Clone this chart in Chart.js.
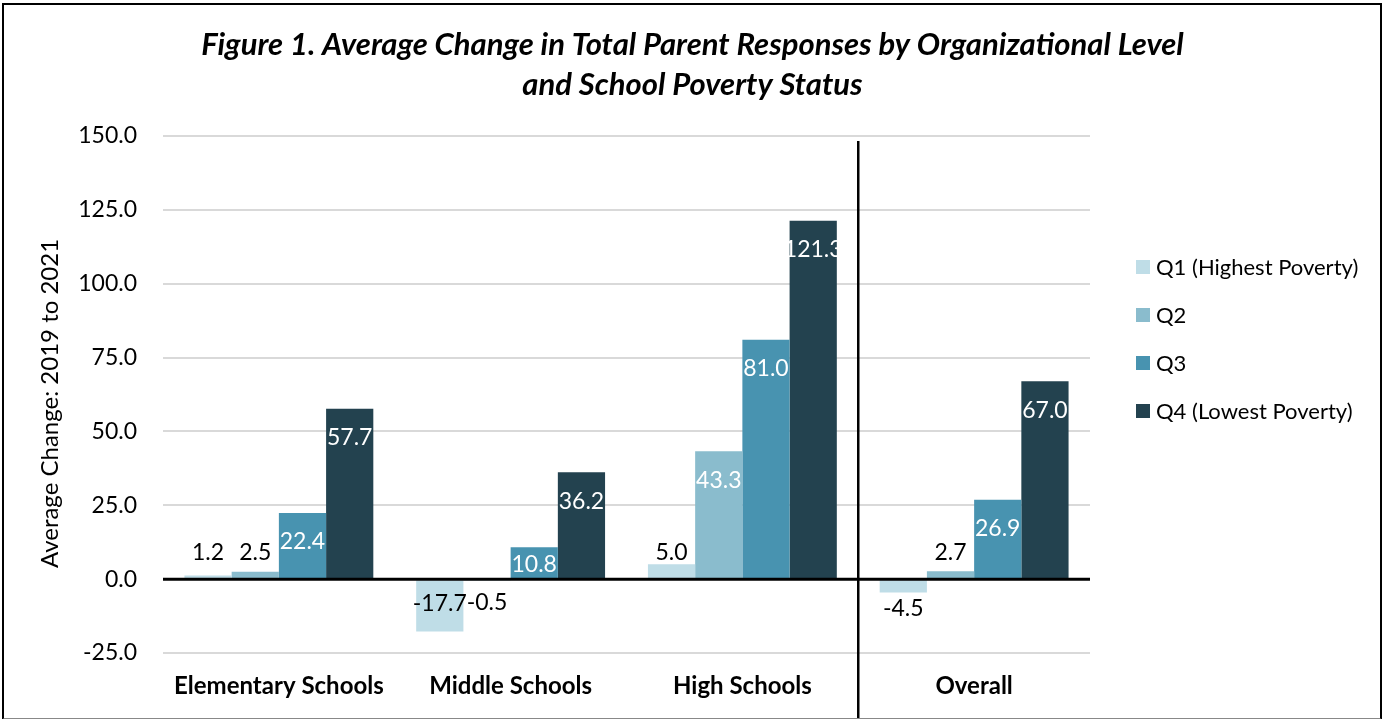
<!DOCTYPE html>
<html>
<head>
<meta charset="utf-8">
<script src="https://cdn.jsdelivr.net/npm/chart.js@4.4.1/dist/chart.umd.min.js"></script>
<style>
  html,body{margin:0;padding:0;background:#fff;}
  #wrap{position:relative;width:1385px;height:719px;overflow:hidden;}
  #frame{position:absolute;left:2px;top:3px;width:1376px;height:713px;border:2px solid #000;border-bottom-color:#888;pointer-events:none;}
  canvas{position:absolute;left:0;top:0;}
</style>
</head>
<body>
<div id="wrap">
  <canvas id="c" width="1385" height="719"></canvas>
  <div id="frame"></div>
</div>
<script>
const titleLines = ["Figure 1. Average Change in Total Parent Responses by Organizational Level", "and School Poverty Status"];
const categories = ["Elementary Schools", "Middle Schools", "High Schools", "Overall"];
const seriesNames = ["Q1 (Highest Poverty)", "Q2", "Q3", "Q4 (Lowest Poverty)"];
const q1 = [1.2, -17.7, 5.0, -4.5];
const q2 = [2.5, -0.5, 43.3, 2.7];
const q3 = [22.4, 10.8, 81.0, 26.9];
const q4 = [57.7, 36.2, 121.3, 67.0];
const yTicks = [-25, 0, 25, 50, 75, 100, 125, 150];
const yTitle = "Average Change: 2019 to 2021";
const colors = ["#BFDDE7", "#8ABCCD", "#4893B0", "#23424F"];

const FONT = "Lato";

const overlay = {
  id: "overlay",
  afterDatasetsDraw(chart) {
    const ctx = chart.ctx, ys = chart.scales.y, xs = chart.scales.x, ca = chart.chartArea;
    const zero = ys.getPixelForValue(0);
    ctx.save();
    // zero line
    ctx.strokeStyle = "#000"; ctx.lineWidth = 3;
    ctx.beginPath(); ctx.moveTo(ca.left, zero); ctx.lineTo(ca.right, zero); ctx.stroke();
    // separator between High Schools and Overall
    const sx = (xs.getPixelForValue(2) + xs.getPixelForValue(3)) / 2;
    ctx.lineWidth = 2.5;
    ctx.beginPath(); ctx.moveTo(sx, ca.top + 5); ctx.lineTo(sx, chart.height); ctx.stroke();
    // data labels
    ctx.font = "23px " + FONT; ctx.textAlign = "center"; ctx.textBaseline = "middle";
    chart.data.datasets.forEach((ds, di) => {
      const meta = chart.getDatasetMeta(di);
      meta.data.forEach((bar, i) => {
        const v = ds.data[i];
        const h = Math.abs(bar.base - bar.y);
        let ly, col;
        if (h > 28) {
          const off = Math.min(29, h / 2 + 2);
          ly = v > 0 ? bar.y + off : bar.y - off;
          col = di === 0 ? "#000" : "#fff";
        } else {
          ly = v >= 0 ? Math.min(bar.y - 12, zero - 27) : Math.max(bar.y + 16, zero + 23);
          col = "#000";
        }
        ctx.fillStyle = col;
        ctx.fillText(v.toFixed(1), bar.x, ly);
      });
    });
    // y axis title
    ctx.save();
    ctx.fillStyle = "#000"; ctx.font = "24px " + FONT;
    ctx.translate(ys.left + 50, (ca.top + ca.bottom) / 2 + 9);
    ctx.rotate(-Math.PI / 2);
    ctx.fillText(yTitle, 0, 0);
    ctx.restore();
    // legend
    ctx.textAlign = "left"; ctx.font = "22px " + FONT;
    chart.data.datasets.forEach((ds, di) => {
      const cy = 267 + di * 48;
      ctx.fillStyle = ds.backgroundColor;
      ctx.fillRect(ca.right + 46, cy - 7, 14, 14);
      ctx.fillStyle = "#000";
      ctx.fillText(ds.label, ca.right + 66, cy + 1);
    });
    // title
    ctx.textAlign = "center"; ctx.font = "italic bold 31px " + FONT;
    titleLines.forEach((t, k) => ctx.fillText(t, chart.width / 2, 45 + k * 40));
    ctx.restore();
  }
};

new Chart(document.getElementById("c"), {
  type: "bar",
  data: {
    labels: categories,
    datasets: [q1, q2, q3, q4].map((d, k) => ({
      label: seriesNames[k], data: d, backgroundColor: colors[k],
      borderWidth: 0, barPercentage: 1, categoryPercentage: 0.815
    }))
  },
  options: {
    responsive: false, animation: false,
    layout: { padding: { left: 0, right: 295, top: 136, bottom: 0 } },
    plugins: { legend: { display: false }, title: { display: false }, tooltip: { enabled: false } },
    scales: {
      x: {
        grid: { display: false, drawTicks: false }, border: { display: false },
        ticks: { font: { family: FONT, weight: "bold", size: 24 }, color: "#000", padding: 19 },
        afterFit(s) { s.height = 66; }
      },
      y: {
        min: -25, max: 150,
        afterBuildTicks(s) { s.ticks = yTicks.map(v => ({ value: v })); },
        ticks: { callback: v => Number(v).toFixed(1), font: { family: FONT, size: 23 }, color: "#000", padding: 26 },
        grid: { color: "#d9d9d9", lineWidth: 2, drawTicks: false }, border: { display: false },
        title: { display: false },
        afterFit(s) { s.width = 163; }
      }
    }
  },
  plugins: [overlay]
});
</script>
</body>
</html>
